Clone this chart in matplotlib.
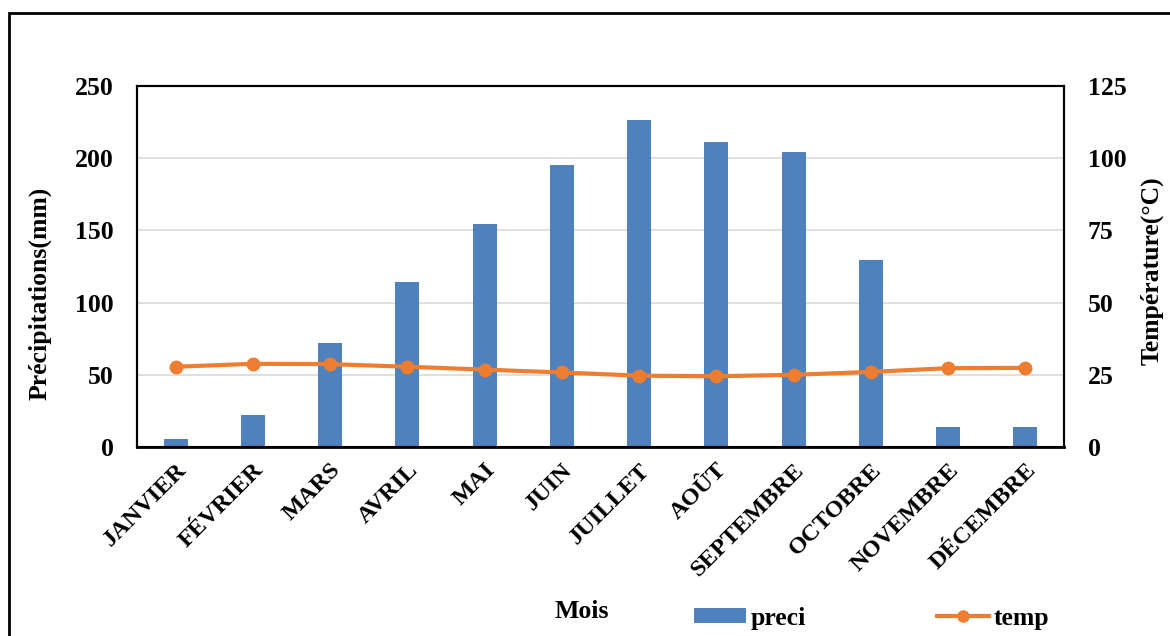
import matplotlib
matplotlib.use("Agg")
import matplotlib.pyplot as plt
from matplotlib.patches import Rectangle, Patch
from matplotlib.lines import Line2D

months = ["JANVIER", "FÉVRIER", "MARS", "AVRIL", "MAI", "JUIN", "JUILLET",
          "AOÛT", "SEPTEMBRE", "OCTOBRE", "NOVEMBRE", "DÉCEMBRE"]
preci = [5.5, 22, 72, 114, 154.5, 195, 226.5, 211.5, 204, 129.5, 14, 13.8]
temp = [27.8, 28.8, 28.7, 27.8, 26.8, 25.8, 24.7, 24.5, 25.0, 26.0, 27.3, 27.4]
left_ticks = [0, 50, 100, 150, 200, 250]
right_ticks = [0, 25, 50, 75, 100, 125]

plt.rcParams['font.family'] = ['Liberation Serif', 'DejaVu Serif']
plt.rcParams['font.weight'] = 'bold'

FS = 18.5
fig = plt.figure(figsize=(11.7, 6.36), dpi=100)
W, H = 1170, 636
ax = fig.add_axes([137 / W, 1 - 447 / H, (1064 - 137) / W, (447 - 86) / H])
ax2 = ax.twinx()

x = list(range(len(months)))
ax.bar(x, preci, width=0.31, color="#4F81BD", zorder=2)
ax.set_ylim(0, 250)
ax.set_xlim(-0.5, len(months) - 0.5)
ax.set_yticks(left_ticks)
ax.yaxis.grid(True, color="#D9D9D9", linewidth=1.2, zorder=0)
ax.set_axisbelow(True)
ax.set_xticks(x)
ax.set_xticklabels(months, rotation=45, ha="right", va="top",
                   rotation_mode="anchor", fontsize=17.5, fontweight="bold")
ax.tick_params(axis="y", length=0, labelsize=FS, pad=17)
ax.tick_params(axis="x", length=0, pad=9)
for lab in ax.get_yticklabels():
    lab.set_fontweight("bold")

ax2.plot(x, temp, color="#ED7D31", linewidth=3, marker="o", markersize=9, zorder=3)
ax2.set_ylim(0, 125)
ax2.set_yticks(right_ticks)
ax2.tick_params(axis="y", length=0, labelsize=FS, pad=17)
for lab in ax2.get_yticklabels():
    lab.set_fontweight("bold")

for a in (ax, ax2):
    for s in a.spines.values():
        s.set_color("black")
        s.set_linewidth(1.5)
ax.spines["bottom"].set_linewidth(2)

fig.text(40 / W, 1 - 293 / H, "Précipitations(mm)", rotation=90, ha="center",
         va="center", fontsize=FS, fontweight="bold")
fig.text(1152 / W, 1 - 271 / H, "Température(°C)", rotation=90, ha="center",
         va="center", fontsize=FS, fontweight="bold")
fig.text(582 / W, 1 - 612 / H, "Mois", ha="center", va="center",
         fontsize=FS, fontweight="bold")

handles = [Patch(facecolor="#4F81BD"),
           Line2D([0], [0], color="#ED7D31", linewidth=3, marker="o", markersize=8)]
leg = fig.legend(handles, ["preci", "temp"], loc="center", ncol=2,
                 bbox_to_anchor=(872 / W, 1 - 618 / H), frameon=False,
                 handlelength=2.0, handleheight=0.5, handletextpad=0.2,
                 columnspacing=5.1, borderpad=0, borderaxespad=0,
                 prop={'weight': 'bold', 'size': FS})

frame = Rectangle((9 / W, -0.1), 1.2, 1 - 13 / H + 0.1, transform=fig.transFigure,
                  fill=False, edgecolor="black", linewidth=2, clip_on=False)
fig.patches.append(frame)

fig.savefig("out.png", dpi=100)
